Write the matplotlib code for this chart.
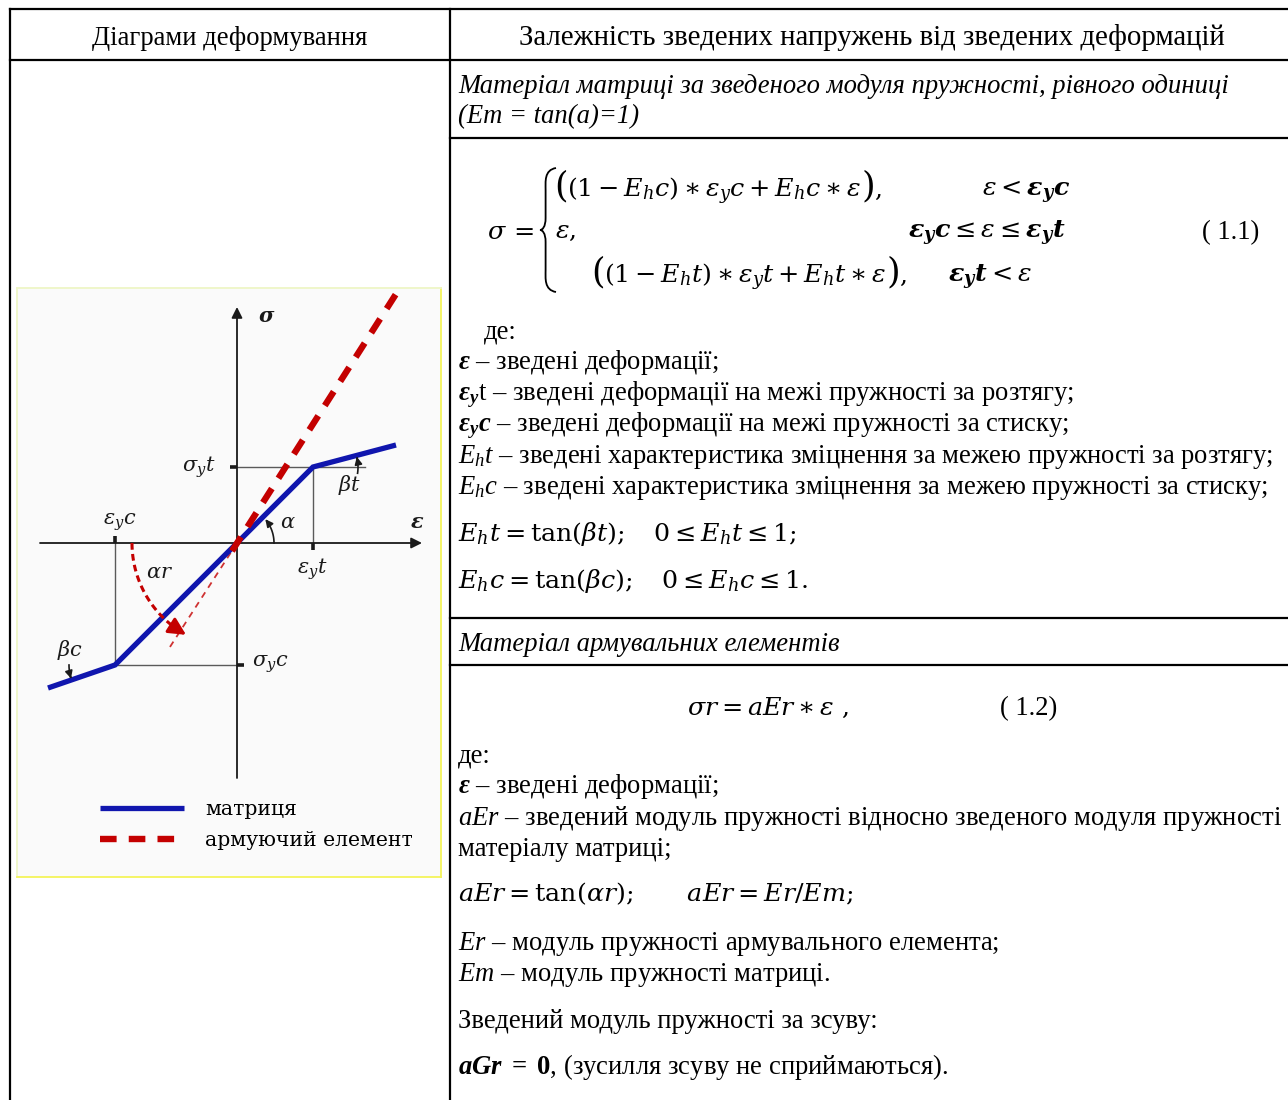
import numpy as np
import matplotlib.pyplot as plt
from matplotlib.path import Path
from matplotlib.patches import PathPatch

plt.rcParams['font.family'] = ['Liberation Serif', 'DejaVu Serif']
plt.rcParams['mathtext.fontset'] = 'custom'
plt.rcParams['mathtext.rm'] = 'Liberation Serif'
plt.rcParams['mathtext.it'] = 'Liberation Serif:italic'
plt.rcParams['mathtext.bf'] = 'Liberation Serif:bold'
plt.rcParams['mathtext.bfit'] = 'Liberation Serif:bold:italic'

# ── Diagram data (reduced strain / stress, Em = 1) ─────────────
eps_yc, sig_yc = -1.22, -1.22
eps_yt, sig_yt = 0.76, 0.76
matrix_eps = [-1.89, eps_yc, 0.0, eps_yt, 1.59]
matrix_sig = [-1.45, sig_yc, 0.0, sig_yt, 0.98]
rebar_eps = [-0.05, 1.59]
rebar_sig = [-0.08, 2.49]
rebar_c_eps = [0.0, -0.69]
rebar_c_sig = [0.0, -1.07]
legend_labels = ["матриця", "армуючий елемент"]

col_headers = ["Діаграми деформування",
               "Залежність зведених напружень від зведених деформацій"]

BLUE = "#1016ae"
RED = "#c40000"
GUIDE = "#5a5a5a"
INK = "#1a1a1a"
FS = 19.2          # body text size
MFS = 18.3         # formula size

fig = plt.figure(figsize=(12.88, 11.0), dpi=100)
ax = fig.add_axes([0, 0, 1, 1])
ax.set_xlim(0, 1288)
ax.set_ylim(1100, 0)
ax.axis("off")
renderer = fig.canvas.get_renderer()

# ── Table grid ────────────────────────────────────────────
grid_kw = dict(color="black", lw=1.6, solid_capstyle="projecting")
ax.plot([10, 1288], [9, 9], **grid_kw)
ax.plot([10, 1288], [60, 60], **grid_kw)
ax.plot([10, 10], [9, 1100], **grid_kw)
ax.plot([450, 450], [9, 1100], **grid_kw)
for yl in [138, 618, 665]:
    ax.plot([450, 1288], [yl, yl], **grid_kw)

ax.text(230, 45, col_headers[0], fontsize=FS, ha="center", va="baseline")
ax.text(872, 45, col_headers[1], fontsize=20.8, ha="center", va="baseline")


def put(x, y, s, size=FS, mf="custom", **kw):
    return ax.text(x, y, s, fontsize=size, va="baseline", math_fontfamily=mf, **kw)


def chain(x, y, pieces):
    # pieces drawn one after another on one baseline: (text, size)
    for s, size in pieces:
        t = put(x, y, s, size=size, mf="dejavuserif")
        x += t.get_window_extent(renderer).width


# ── Right column: matrix ──────────────────────────────────
put(458, 93, "Матеріал матриці за зведеного модуля пружності, рівного одиниці", style="italic")
put(458, 123, "(Em = tan(a)=1)", style="italic")

put(487, 239, r"$\sigma\,=$", size=MFS, mf="dejavuserif")


def brace(x, y0, y1, w):
    ym = (y0 + y1) / 2
    verts = [(x + w, y0), (x + w * 0.25, y0 + 2), (x + w * 0.35, y0 + 14), (x + w * 0.35, y0 + 22),
             (x + w * 0.35, ym - 12),
             (x + w * 0.35, ym - 3), (x + w * 0.15, ym), (x, ym),
             (x + w * 0.15, ym), (x + w * 0.35, ym + 3), (x + w * 0.35, ym + 12),
             (x + w * 0.35, y1 - 22),
             (x + w * 0.35, y1 - 14), (x + w * 0.25, y1 - 2), (x + w, y1)]
    codes = [Path.MOVETO, Path.CURVE4, Path.CURVE4, Path.CURVE4, Path.LINETO,
             Path.CURVE4, Path.CURVE4, Path.CURVE4,
             Path.CURVE4, Path.CURVE4, Path.CURVE4, Path.LINETO,
             Path.CURVE4, Path.CURVE4, Path.CURVE4]
    ax.add_patch(PathPatch(Path(verts, codes), fill=False, lw=1.3, color="black"))


brace(540, 168, 292, 16)

BIG = 25
chain(554, 197, [(r"$($", BIG),
                 (r"$(1 - E_hc) \ast \varepsilon_yc + E_hc \ast \varepsilon$", MFS),
                 (r"$)$", BIG), (r"$,$", MFS)])
put(982, 196, r"$\varepsilon < \mathbfit{\varepsilon_y c}$", size=MFS, mf="dejavuserif")
put(555, 238, r"$\varepsilon,$", size=MFS, mf="dejavuserif")
put(908, 238, r"$\mathbfit{\varepsilon_y c} \leq \varepsilon \leq \mathbfit{\varepsilon_y t}$", size=MFS, mf="dejavuserif")
chain(591, 283, [(r"$($", BIG),
                 (r"$(1 - E_ht) \ast \varepsilon_yt + E_ht \ast \varepsilon$", MFS),
                 (r"$)$", BIG), (r"$,$", MFS)])
put(948, 282, r"$\mathbfit{\varepsilon_y t} < \varepsilon$", size=MFS, mf="dejavuserif")
put(1202, 239, "( 1.1)")

put(484, 338, "де:")
put(458, 369, r"$\mathbfit{\varepsilon}$ – зведені деформації;")
put(458, 400, r"$\mathbfit{\varepsilon_y}$t – зведені деформації на межі пружності за розтягу;")
put(458, 431, r"$\mathbfit{\varepsilon_y c}$ – зведені деформації на межі пружності за стиску;")
put(458, 463, r"$E_h t$ – зведені характеристика зміцнення за межею пружності за розтягу;")
put(458, 494, r"$E_h c$ – зведені характеристика зміцнення за межею пружності за стиску;")

put(458, 541, r"$E_ht = \tan(\beta t);\quad 0 \leq E_ht \leq 1;$", size=MFS, mf="dejavuserif")
put(458, 588, r"$E_hc = \tan(\beta c);\quad 0 \leq E_hc \leq 1.$", size=MFS, mf="dejavuserif")

# ── Right column: reinforcement ───────────────────────────
put(458, 651, "Матеріал армувальних елементів", style="italic")
put(687, 715, r"$\sigma r = aEr \ast \varepsilon\ ,$", size=MFS, mf="dejavuserif")
put(1000, 715, "( 1.2)")
put(458, 762, "де:")
put(458, 793, r"$\mathbfit{\varepsilon}$ – зведені деформації;")
put(458, 825, r"$aEr$ – зведений модуль пружності відносно зведеного модуля пружності")
put(458, 856, "матеріалу матриці;")
put(458, 901, r"$aEr = \tan(\alpha r);\qquad aEr = Er/Em;$", size=MFS, mf="dejavuserif")
put(458, 950, r"$Er$ – модуль пружності армувального елемента;")
put(458, 981, r"$Em$ – модуль пружності матриці.")
put(458, 1028, "Зведений модуль пружності за зсуву:")
put(458, 1074, r"$\mathbfit{aGr}\ \mathbf{=}\ \mathbf{0}$, (зусилля зсуву не сприймаються).")

# ── Left column: deformation diagram ──────────────────────
dax = fig.add_axes([17 / 1288, 1 - 877 / 1100, 424 / 1288, 589 / 1100])
dax.set_xlim(-2.20, 2.04)
dax.set_ylim(-3.34, 2.55)
dax.set_facecolor("#fafafa")
dax.set_xticks([])
dax.set_yticks([])
dax.spines["left"].set_color("#eef6c6")
dax.spines["top"].set_color("#eef6c6")
dax.spines["right"].set_color("#f4f45a")
dax.spines["bottom"].set_color("#f4f45a")
for sp in dax.spines.values():
    sp.set_linewidth(1.3)

arr_kw = dict(arrowstyle="-|>", color=INK, lw=1.3, mutation_scale=16, shrinkA=0, shrinkB=0)
dax.annotate("", xy=(1.85, 0), xytext=(-1.97, 0), arrowprops=arr_kw)
dax.annotate("", xy=(0, 2.36), xytext=(0, -2.35), arrowprops=arr_kw)

# guide lines and ticks
g_kw = dict(color=GUIDE, lw=1.0)
dax.plot([eps_yc, eps_yc], [0, sig_yc], **g_kw)
dax.plot([eps_yc, 0], [sig_yc, sig_yc], **g_kw)
dax.plot([eps_yt, eps_yt], [0, sig_yt], **g_kw)
dax.plot([0, 1.28], [sig_yt, sig_yt], **g_kw)
t_kw = dict(color=INK, lw=2.6, solid_capstyle="butt")
dax.plot([eps_yc, eps_yc], [0, 0.07], **t_kw)
dax.plot([eps_yt, eps_yt], [0, -0.07], **t_kw)
dax.plot([-0.07, 0], [sig_yt, sig_yt], **t_kw)
dax.plot([0, 0.07], [sig_yc, sig_yc], **t_kw)

h_matrix, = dax.plot(matrix_eps, matrix_sig, color=BLUE, lw=3.8, solid_joinstyle="miter",
                     solid_capstyle="butt", zorder=3)
h_rebar, = dax.plot(rebar_eps, rebar_sig, color=RED, lw=4.6, ls=(0, (2.6, 1.9)), zorder=4)
dax.plot(rebar_c_eps, rebar_c_sig, color=RED, lw=1.3, ls=(0, (3.5, 3)), alpha=0.8, zorder=2)


def arc_arrow(cx, cy, r, a0, a1, color=INK, lw=1.2, ms=11, ls="-"):
    t = np.radians(np.linspace(a0, a1, 60))
    x = cx + r * np.cos(t)
    y = cy + r * np.sin(t)
    dax.plot(x[:-6], y[:-6], color=color, lw=lw, ls=ls, zorder=5)
    dax.annotate("", xy=(x[-1], y[-1]), xytext=(x[-7], y[-7]),
                 arrowprops=dict(arrowstyle="-|>", color=color, lw=lw, mutation_scale=ms,
                                 shrinkA=0, shrinkB=0), zorder=5)


arc_arrow(0, 0, 0.37, 0, 40)
arc_arrow(eps_yt, sig_yt, 0.45, -8, 13)
arc_arrow(eps_yc, sig_yc, 0.46, 180, 197)
arc_arrow(0, 0, 1.05, 180, 241, color=RED, lw=2.2, ms=26, ls=(0, (2.2, 1.4)))

lab = dict(fontsize=15, math_fontfamily="dejavuserif", color=INK, va="center")
dax.text(0.21, 2.25, r"$\mathbfit{\sigma}$", ha="left", **lab)
dax.text(1.80, 0.19, r"$\mathbfit{\varepsilon}$", ha="center", **lab)
dax.text(-0.22, 0.76, r"$\sigma_y t$", ha="right", **lab)
dax.text(1.13, 0.58, r"$\beta t$", ha="center", **lab)
dax.text(0.51, 0.19, r"$\alpha$", ha="center", **lab)
dax.text(-1.17, 0.21, r"$\varepsilon_y c$", ha="center", **lab)
dax.text(0.75, -0.26, r"$\varepsilon_y t$", ha="center", **lab)
dax.text(-0.77, -0.31, r"$\alpha r$", ha="center", **lab)
dax.text(-1.67, -1.07, r"$\beta c$", ha="center", **lab)
dax.text(0.15, -1.21, r"$\sigma_y c$", ha="left", **lab)

dax.legend([h_matrix, h_rebar], legend_labels, loc="upper left",
           bbox_to_anchor=((100 - 17) / 424, (877 - 800) / 589), bbox_transform=dax.transAxes,
           frameon=False, borderpad=0, borderaxespad=0, handlelength=4.1, handletextpad=1.05,
           labelspacing=0.6, prop=dict(family="DejaVu Serif", size=14.7))

fig.savefig("out.png", dpi=100)
